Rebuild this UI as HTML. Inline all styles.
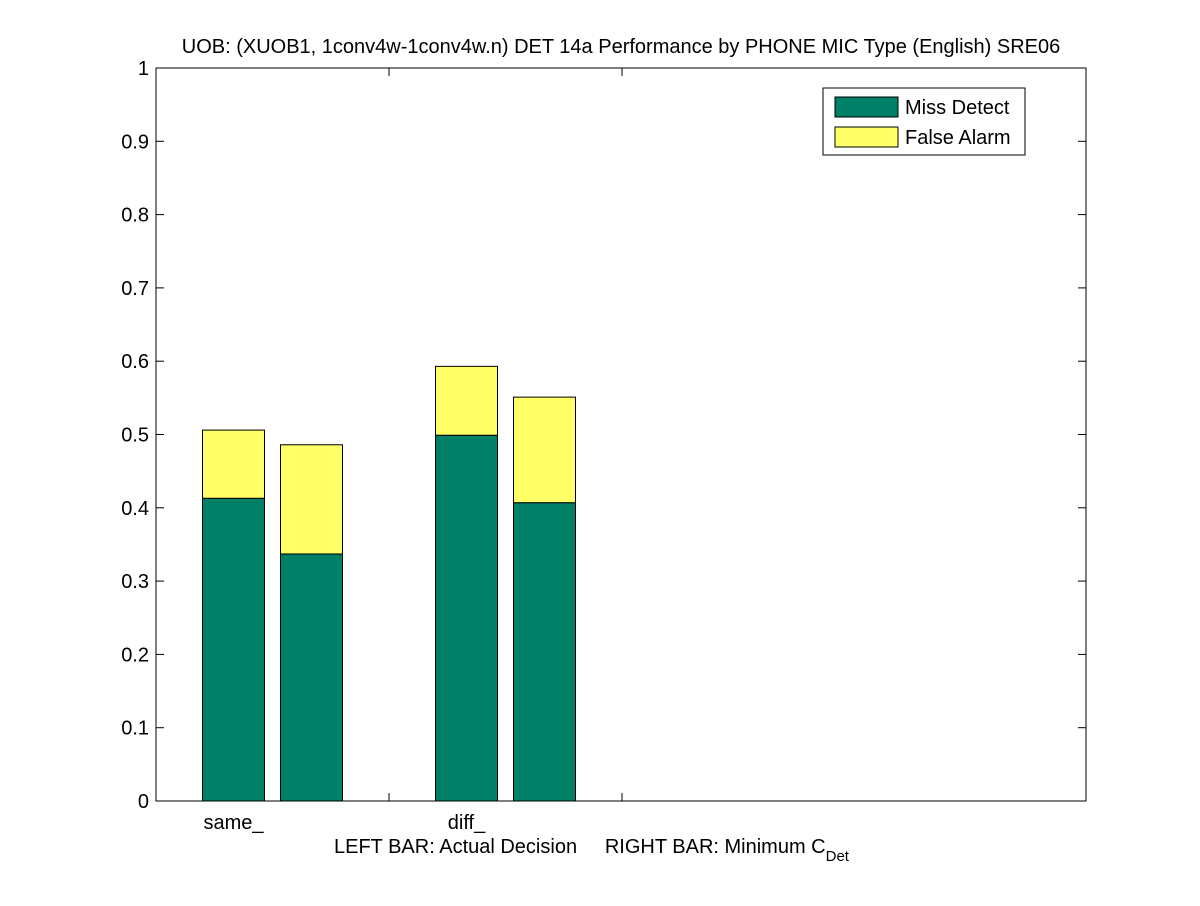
<!DOCTYPE html>
<html><head><meta charset="utf-8"><style>
body{margin:0;background:#fff}
svg text{font-family:"Liberation Sans",sans-serif;fill:#000}
</style></head><body>
<svg width="1200" height="901" xmlns="http://www.w3.org/2000/svg">
<rect x="0" y="0" width="1200" height="901" fill="#fff"/>
<text x="621" y="53" font-size="20" text-anchor="middle">UOB: (XUOB1, 1conv4w-1conv4w.n) DET 14a Performance by PHONE MIC Type (English) SRE06</text>
<rect x="156" y="68" width="930" height="733" fill="#fff" stroke="#000" stroke-width="1"/>
<g id="yticks"></g>
<g id="bars"></g>
<g id="xlabels"></g>
<text x="334" y="853" font-size="20">LEFT BAR: Actual Decision &#160;&#160;&#160;&#160;RIGHT BAR: Minimum C<tspan font-size="15" dy="8">Det</tspan></text>
<g>
<rect x="823" y="88" width="202" height="67" fill="#fff" stroke="#000"/>
<rect x="835" y="97" width="63" height="20" fill="#008066" stroke="#000"/>
<text x="905" y="114" font-size="20">Miss Detect</text>
<rect x="835" y="127" width="63" height="20" fill="#ffff66" stroke="#000"/>
<text x="905" y="144" font-size="20">False Alarm</text>
</g>
</svg>
<script>
const categories = ["same_", "diff_"];
const missActual = [0.413, 0.499];
const faActual = [0.093, 0.094];
const missMin = [0.337, 0.407];
const faMin = [0.149, 0.144];
const yTicks = [0,0.1,0.2,0.3,0.4,0.5,0.6,0.7,0.8,0.9,1];
const yTickLabels = ["0","0.1","0.2","0.3","0.4","0.5","0.6","0.7","0.8","0.9","1"];

const NS = "http://www.w3.org/2000/svg";
const x0 = 156, x1 = 1086, y0 = 801, y1 = 68;
const catW = 233;
const y = v => y0 - v * (y0 - y1);
const catX = i => x0 + catW * (i + 0.5);
function mk(tag, attrs, parent){const e=document.createElementNS(NS,tag);for(const k in attrs)e.setAttribute(k,attrs[k]);parent.appendChild(e);return e;}

const yt = document.getElementById('yticks');
yTicks.forEach((v,i)=>{
  const l = mk('line',{x1:x0,x2:x0+8,y1:y(v),y2:y(v),stroke:'#000'},yt);
  
  
  const r = mk('line',{x1:x1-8,x2:x1,y1:y(v),y2:y(v),stroke:'#000'},yt);
  
  
  const t = mk('text',{x:x0-7,y:y(v)+7,'font-size':20,'text-anchor':'end'},yt);
  t.textContent = yTickLabels[i];
  
  
});
for(let i=1;i<=categories.length;i++){
  const xx = x0 + catW*i;
  const b = mk('line',{x1:xx,x2:xx,y1:y0,y2:y0-8,stroke:'#000'},yt);
  
  
  const t = mk('line',{x1:xx,x2:xx,y1:y1,y2:y1+8,stroke:'#000'},yt);
  
  
}
const bg = document.getElementById('bars');
const xl = document.getElementById('xlabels');
const bw = 62;
categories.forEach((c,i)=>{
  const cx = catX(i);
  [[missActual[i],faActual[i],cx-8-bw,'actual'],[missMin[i],faMin[i],cx+8,'min']].forEach(([m,f,bx,kind])=>{
    const r1 = mk('rect',{x:bx,y:y(m),width:bw,height:y(0)-y(m),fill:'#008066',stroke:'#000'},bg);
    
    
    const r2 = mk('rect',{x:bx,y:y(m+f),width:bw,height:y(m)-y(m+f),fill:'#ffff66',stroke:'#000'},bg);
    
    
  });
  const t = mk('text',{x:cx-8-bw/2,y:829,'font-size':20,'text-anchor':'middle'},xl);
  t.textContent = c;
  
  
});
</script>
</body></html>
